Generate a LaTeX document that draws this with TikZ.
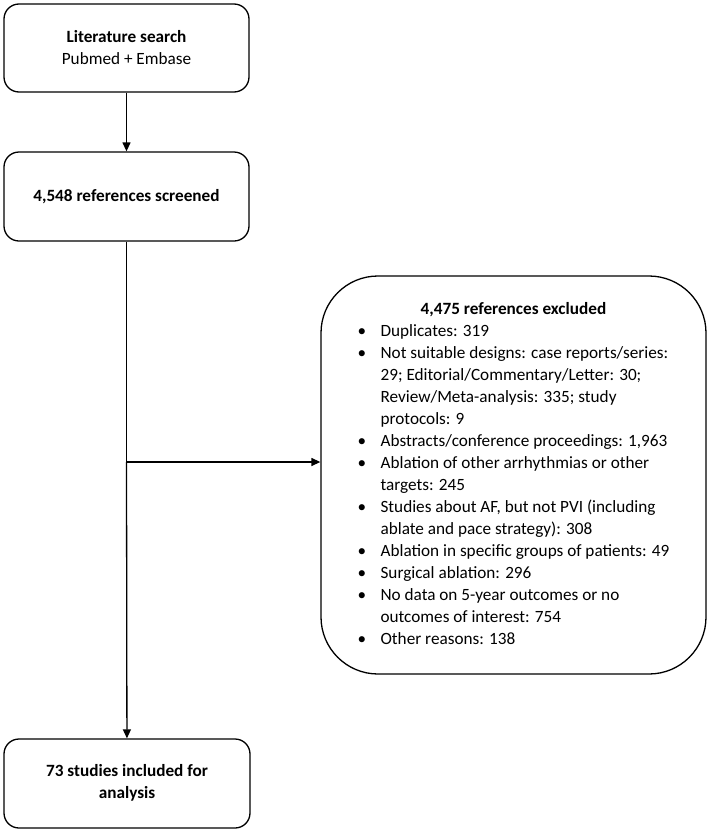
\documentclass[tikz,border=0pt]{standalone}
\usepackage{fontspec}
\setmainfont{Carlito}
\usetikzlibrary{arrows.meta}
\begin{document}
\begin{tikzpicture}[x=1pt,y=-1pt,
  box/.style={draw, line width=1.3pt, rounded corners=15pt, align=center,
    font=\fontsize{17.2}{22}\selectfont, inner sep=0pt},
  bigbox/.style={box, rounded corners=57pt},
  link/.style={line width=1.3pt},
  arr/.style={link, -{Triangle[length=9pt,width=8pt]}}]
\useasboundingbox[fill=white] (0,0) rectangle (709,833);
\node[box, minimum width=245pt, minimum height=88pt] (search) at (126.5,48)
  {\textbf{Literature search}\\Pubmed + Embase};
\node[box, minimum width=245pt, minimum height=89pt] (screened) at (126.5,196.5)
  {\textbf{4,548 references screened}};
\node[box, minimum width=246pt, minimum height=89pt, text height=32pt] (included) at (127,783.5)
  {\textbf{73 studies included for}\\\textbf{analysis}};
\node[bigbox, minimum width=385pt, minimum height=398pt] (excluded) at (513.5,475)
  {\begin{tabular}{@{}p{23pt}@{}l@{}}
   \multicolumn{2}{c}{\textbf{4,475 references excluded}}\\
   \textbullet & Duplicates: 319\\
   \textbullet & Not suitable designs: case reports/series:\\
   & 29; Editorial/Commentary/Letter: 30;\\
   & Review/Meta-analysis: 335; study\\
   & protocols: 9\\
   \textbullet & Abstracts/conference proceedings: 1,963\\
   \textbullet & Ablation of other arrhythmias or other\\
   & targets: 245\\
   \textbullet & Studies about AF, but not PVI (including\\
   & ablate and pace strategy): 308\\
   \textbullet & Ablation in specific groups of patients: 49\\
   \textbullet & Surgical ablation: 296\\
   \textbullet & No data on 5-year outcomes or no\\
   & outcomes of interest: 754\\
   \textbullet & Other reasons: 138
   \end{tabular}};
\coordinate (split) at (126.5,462);
\draw[arr] (search) -- (screened);
\draw[link] (screened) -- (split);
\draw[arr] (split) -- (included);
\draw[arr] (split) -- (split -| excluded.west);
\end{tikzpicture}
\end{document}
